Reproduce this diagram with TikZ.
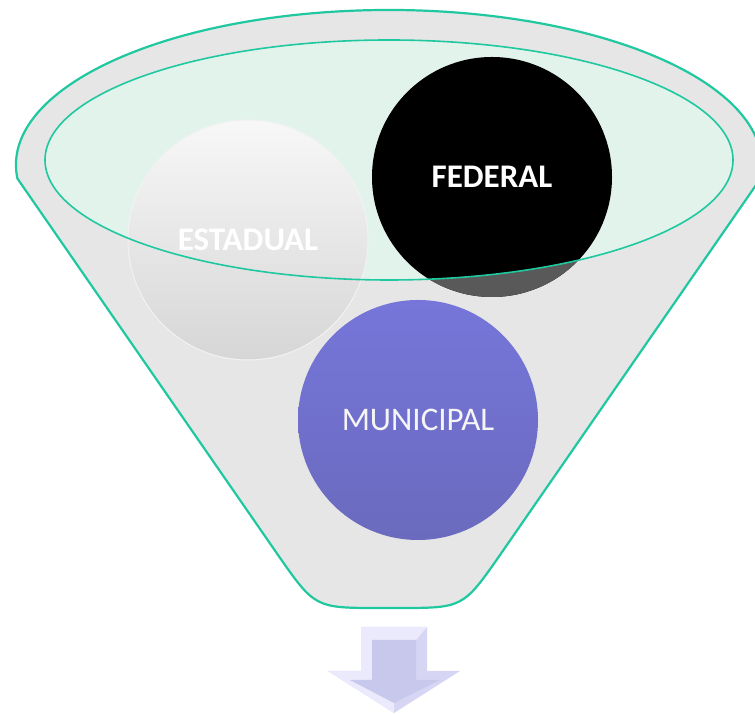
\documentclass[tikz,border=0pt]{standalone}
\usepackage{fontspec}
\setmainfont{Carlito}
\definecolor{rim}{RGB}{32,200,160}
\definecolor{glass}{RGB}{226,243,236}
\definecolor{funnelgray}{RGB}{230,230,230}
\definecolor{purpletop}{RGB}{118,118,218}
\definecolor{purplebot}{RGB}{106,106,190}
\definecolor{arrowout}{RGB}{214,214,244}
\definecolor{arrowface}{RGB}{200,200,236}
\definecolor{arrowlight}{RGB}{234,234,252}

\begin{document}
\begin{tikzpicture}[x=1pt,y=1pt,
    ball/.style={circle,minimum size=240pt,inner sep=0pt,font=\fontsize{33}{40}\selectfont}]
        \useasboundingbox (0,0) rectangle (755,714);
        % funnel
        \draw[rim,line width=2.2pt,fill=funnelgray] (17.4,535.5) arc[start angle=185,end angle=-5,x radius=373,y radius=155]
            -- (500,159) .. controls (463,106) .. (398,106) -- (380,106) .. controls (315,106) .. (278,159) -- cycle;
        \fill[glass] (389,554) ellipse [x radius=344,y radius=120];

        \node[ball,top color=white!94!gray,bottom color=white!68!gray,draw=white!90!gray,line width=1pt,text=white] (estadual) at (248,474) {\bfseries ESTADUAL};
        \node[ball,fill=black,text=white] (federal) at (492,537) {\bfseries FEDERAL};
        % part of federal below the rim
        \begin{scope}
            \clip (federal.center) circle (120pt);
            \fill[black!65,even odd rule] (350,380) rectangle (640,700) (389,554) ellipse [x radius=344,y radius=120];
        \end{scope}
        \node[ball,top color=purpletop,bottom color=purplebot,text=white!92!gray] (municipal) at (418,294) {MUNICIPAL};

        \draw[rim,line width=1.6pt] (389,554) ellipse [x radius=344,y radius=120];

        % arrow
        \fill[arrowout] (361,87) -- (427,87) -- (427,43) -- (460,43) -- (394,1) -- (328,43) -- (361,43) -- cycle;
        \fill[arrowlight] (361,87) -- (427,87) -- (416,74) -- (372,74) -- (372,34) -- (350,34) -- (394,11) -- (394,1) -- (328,43) -- (361,43) -- cycle;
        \fill[arrowface] (372,74) -- (416,74) -- (416,34) -- (440,34) -- (394,11) -- (350,34) -- (372,34) -- cycle;
\end{tikzpicture}
\end{document}
